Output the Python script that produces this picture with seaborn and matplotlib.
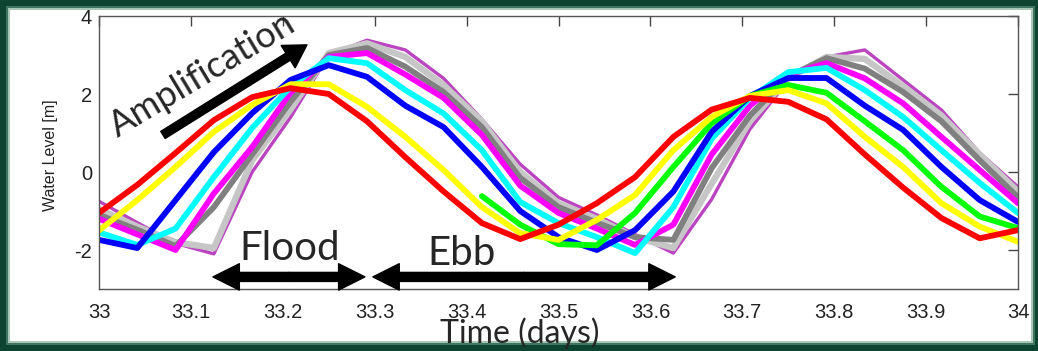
# Water level along the estuary: tidal wave amplification, flood / ebb

import numpy as np
import seaborn as sns
import matplotlib.pyplot as plt
from matplotlib.patches import Rectangle

# =========================================
# DATA (hourly samples, day 33 -> 34)
# =========================================

hours = list(range(25))

red = [-1.05, -0.33, 0.49, 1.33, 1.92, 2.15, 2.0, 1.3, 0.38, -0.5, -1.31, -1.72, -1.35,
       -0.8, -0.13, 0.9, 1.6, 1.9, 1.8, 1.35, 0.45, -0.4, -1.18, -1.7, -1.49]
yellow = [-1.5, -0.72, 0.13, 1.03, 1.72, 2.25, 2.25, 1.67, 0.9, 0.05, -0.9, -1.57, -1.74,
          -1.23, -0.59, 0.56, 1.41, 1.95, 2.1, 1.76, 0.9, 0.13, -0.8, -1.4, -1.79]
green = [np.nan] * 10 + [-0.62, -1.35, -1.85, -1.88, -1.05, 0.13, 1.25, 1.95, 2.23,
                         2.03, 1.3, 0.56, -0.38, -1.14, -1.44]
blue = [-1.74, -1.95, -0.72, 0.51, 1.51, 2.36, 2.74, 2.44, 1.7, 1.15, 0.13, -1.0, -1.67,
        -2.0, -1.49, -0.5, 1.03, 1.95, 2.41, 2.41, 1.7, 1.08, 0.13, -0.72, -1.28]
cyan = [-1.55, -1.87, -1.45, -0.13, 1.13, 2.18, 2.92, 2.79, 2.1, 1.5, 0.56, -0.77, -1.31,
        -1.67, -2.08, -0.9, 0.85, 1.9, 2.56, 2.67, 2.1, 1.41, 0.56, -0.28, -1.05]
magenta = [-1.2, -1.6, -2.0, -0.55, 0.64, 2.03, 2.95, 3.05, 2.5, 1.9, 0.95, -0.35, -1.05,
           -1.45, -1.87, -1.35, 0.45, 1.7, 2.5, 2.79, 2.4, 1.76, 0.9, 0.05, -0.8]
gray = [-1.1, -1.48, -1.9, -0.9, 0.45, 1.8, 3.0, 3.18, 2.7, 2.05, 1.15, -0.15, -0.9,
        -1.3, -1.67, -1.74, 0.1, 1.45, 2.45, 2.92, 2.65, 2.05, 1.3, 0.3, -0.65]
light_gray = [-0.95, -1.4, -1.8, -1.95, 0.3, 1.6, 3.05, 3.3, 2.95, 2.23, 1.3, 0.0, -0.8,
              -1.2, -1.67, -1.95, -0.3, 1.3, 2.4, 2.95, 2.9, 2.2, 1.45, 0.45, -0.5]
purple = [-0.75, -1.3, -1.83, -2.1, 0.0, 1.4, 3.0, 3.38, 3.13, 2.4, 1.35, 0.2, -0.65,
          -1.1, -1.6, -2.08, -0.7, 1.1, 2.35, 2.95, 3.13, 2.36, 1.59, 0.49, -0.38]

time_days = 33 + np.array(hours) / 24

x_ticks = [33, 33.1, 33.2, 33.3, 33.4, 33.5, 33.6, 33.7, 33.8, 33.9, 34]
x_tick_labels = ['33', '33.1', '33.2', '33.3', '33.4', '33.5', '33.6', '33.7', '33.8', '33.9', '34']
y_ticks = [-2, 0, 2, 4]
y_tick_labels = ['-2', '0', '2', '4']

# drawing order: back to front
series = [
    (purple, '#bb44c0', 2.4),
    (light_gray, '#c6c6c6', 4.6),
    (gray, '#808080', 4.2),
    (magenta, '#ff00ff', 4.2),
    (cyan, '#00ffff', 4.2),
    (blue, '#0000ff', 4.2),
    (green, '#00ff00', 4.2),
    (yellow, '#ffff00', 4.2),
    (red, '#ff0000', 4.2),
]

# =========================================
# FIGURE
# =========================================

sns.set_style("white")
plt.rcParams['font.family'] = ['Liberation Sans', 'DejaVu Sans']
plt.rcParams['axes.unicode_minus'] = False

fig = plt.figure(figsize=(10.38, 3.51), dpi=100)
fig.patch.set_facecolor('#0c4431')

W, H = 1038, 351


def frame_rect(inset_l, inset_t, inset_r, inset_b, color, z):
    fig.add_artist(Rectangle(
        (inset_l / W, inset_b / H),
        1 - (inset_l + inset_r) / W,
        1 - (inset_t + inset_b) / H,
        transform=fig.transFigure, facecolor=color, edgecolor='none', zorder=z
    ))


frame_rect(6, 6, 3, 6, '#3f7560', -12)
frame_rect(8, 8, 5, 8, '#a9c7b8', -11)
frame_rect(10, 10, 7, 10, 'white', -10)

ax = fig.add_axes([99 / W, 62 / H, 919 / W, 273 / H])
ax.set_facecolor('white')

for values, color, width in series:
    sns.lineplot(x=time_days, y=values, color=color, linewidth=width, ax=ax)

ax.set_xlim(33, 34)
ax.set_ylim(-3, 4)
ax.set_xticks(x_ticks)
ax.set_xticklabels(x_tick_labels)
ax.set_yticks(y_ticks)
ax.set_yticklabels(y_tick_labels)
ax.set_xlabel('')
ax.set_ylabel('')

ax.tick_params(direction='in', length=7, width=1, color='#444444',
               top=True, right=True, labelsize=14.5, labelcolor='#222222')
ax.tick_params(axis='x', pad=10)
ax.tick_params(axis='y', pad=5)
for side in ax.spines.values():
    side.set_color('#555555')
    side.set_linewidth(1)

fig.text(50 / W, 1 - 155 / H, 'Water Level [m]', rotation=90,
         ha='center', va='center', fontsize=11.5, color='#222222')

# =========================================
# ANNOTATIONS
# =========================================

ann_font = ['Lato', 'DejaVu Sans']

ax.text(33.113, 2.5, 'Amplification', fontsize=26, family=ann_font,
        rotation=31, ha='center', va='center', rotation_mode='anchor')
ax.annotate('', xy=(33.2263, 3.26), xytext=(33.0696, 0.95),
            arrowprops=dict(facecolor='black', edgecolor='black',
                            width=6, headwidth=19, headlength=16))

ax.text(33.2078, -1.95, 'Flood', fontsize=29, family=ann_font, ha='center', va='center')
ax.text(33.395, -2.10, 'Ebb', fontsize=29, family=ann_font, ha='center', va='center')


def double_arrow(x0, x1, y):
    mid = (x0 + x1) / 2
    for end in (x0, x1):
        ax.annotate('', xy=(end, y), xytext=(mid, y),
                    arrowprops=dict(facecolor='black', edgecolor='black',
                                    width=6.5, headwidth=19, headlength=19))


double_arrow(33.124, 33.2894, -2.69)
double_arrow(33.298, 33.627, -2.69)

fig.text(520 / W, (351 - 343) / H, 'Time (days)', fontsize=23,
         family=ann_font, ha='center', va='baseline')

fig.savefig('out.png', dpi=100, facecolor=fig.get_facecolor())
